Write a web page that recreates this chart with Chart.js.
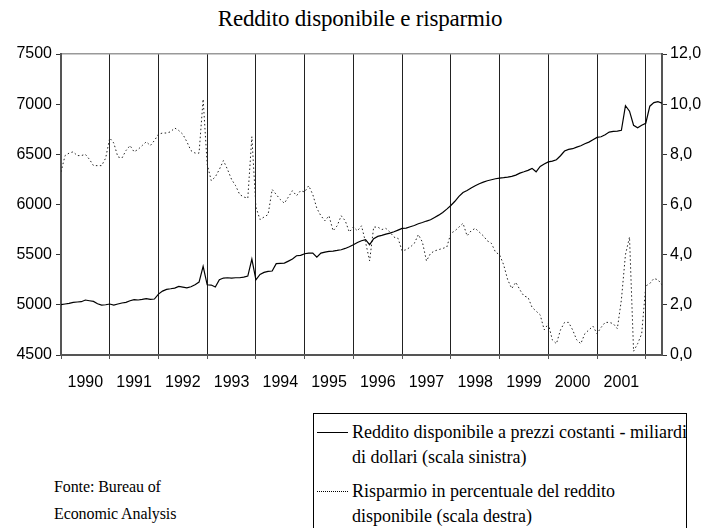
<!DOCTYPE html>
<html>
<head>
<meta charset="utf-8">
<script src="https://cdn.jsdelivr.net/npm/chart.js@4.4.1/dist/chart.umd.min.js"></script>
<style>
  body { margin: 0; background: #fff; }
  #wrap { position: relative; width: 720px; height: 528px; overflow: hidden; }
  #title { position: absolute; left: 0; top: 6px; width: 720px; text-align: center;
           font: 23px "Liberation Serif", serif; letter-spacing: -0.2px; color: #000; }
  canvas { position: absolute; left: 0; top: 0; }
  .src { position: absolute; left: 54px; top: 473px; font: 16px/27px "Liberation Serif", serif;
         letter-spacing: -0.1px; }
  #legend { position: absolute; left: 313px; top: 413px; width: 372px; height: 130px;
            border: 1px solid #000; font: 18px/25px "Liberation Serif", serif; letter-spacing: 0; }
  .item { position: absolute; left: 3px; }
  .sample { position: absolute; left: 0; width: 31px; top: 12px; }
  .txt { position: absolute; left: 35px; top: 0; white-space: nowrap; }
</style>
</head>
<body>
<div id="wrap">
  <div id="title">Reddito disponibile e risparmio</div>
  <canvas id="chart" width="720" height="400"></canvas>
  <div id="legend">
    <div class="item" style="top:6px">
      <div class="sample" style="border-top:1px solid #000"></div>
      <div class="txt">Reddito disponibile a prezzi costanti - miliardi<br>di dollari (scala sinistra)</div>
    </div>
    <div class="item" style="top:65px">
      <div class="sample" style="border-top:1px dotted #000"></div>
      <div class="txt">Risparmio in percentuale del reddito<br>disponibile (scala destra)</div>
    </div>
  </div>
  <div class="src">Fonte: Bureau of<br>Economic Analysis</div>
</div>
<script>
// monthly data, Jan 1990 onward
const years = ["1990", "1991", "1992", "1993", "1994", "1995", "1996", "1997", "1998", "1999", "2000", "2001"];

// real disposable income, billions (left scale)
const income = [
  5001, 5008, 5014, 5024, 5028, 5031, 5048, 5041, 5034, 5011, 4998, 5001,
  5008, 4998, 5008, 5018, 5024, 5041, 5051, 5048, 5054, 5061, 5054, 5058,
  5107, 5137, 5154, 5160, 5167, 5184, 5177, 5170, 5180, 5200, 5227, 5383,
  5200, 5197, 5177, 5250, 5267, 5270, 5267, 5270, 5270, 5277, 5287, 5456,
  5250, 5303, 5323, 5333, 5337, 5410, 5413, 5416, 5436, 5456, 5489, 5493,
  5509, 5516, 5516, 5475, 5516, 5526, 5532, 5536, 5542, 5549, 5562, 5579,
  5599, 5622, 5639, 5650, 5600, 5659, 5682, 5692, 5705, 5715, 5728, 5745,
  5762, 5765, 5778, 5791, 5808, 5821, 5835, 5848, 5871, 5894, 5921, 5954,
  5990, 6032, 6081, 6120, 6140, 6164, 6187, 6207, 6223, 6237, 6247, 6257,
  6263, 6267, 6273, 6280, 6293, 6313, 6326, 6340, 6360, 6326, 6380, 6403,
  6425, 6433, 6446, 6486, 6533, 6549, 6556, 6572, 6586, 6606, 6622, 6645,
  6669, 6675, 6695, 6722, 6729, 6732, 6740, 6985, 6930, 6790, 6765, 6790,
  6810, 6980, 7015, 7025, 7010
];

// saving rate, % of disposable income (right scale)
const savings = [
  7.3, 7.95, 8.05, 8.1, 7.95, 7.95, 8.0, 7.8, 7.55, 7.55, 7.55, 7.85,
  8.65, 8.45, 7.9, 7.85, 8.15, 8.35, 8.1, 8.2, 8.35, 8.5, 8.35, 8.55,
  8.8, 8.85, 8.85, 8.9, 9.05, 8.95, 8.8, 8.5, 8.15, 8.05, 8.05, 10.2,
  7.6, 6.95, 7.1, 7.4, 7.75, 7.4, 7.0, 6.75, 6.4, 6.3, 6.25, 8.7,
  5.9, 5.4, 5.5, 5.6, 6.6, 6.4, 6.2, 6.05, 6.3, 6.55, 6.35, 6.55,
  6.5, 6.75, 6.4, 5.85, 5.55, 5.35, 5.55, 4.95, 5.15, 5.55, 5.35, 4.9,
  5.1, 4.95, 5.15, 4.5, 3.75, 5.1, 5.1, 5.0, 5.05, 4.9, 4.7, 4.65,
  4.15, 4.2, 4.3, 4.45, 4.8, 4.5, 3.75, 4.05, 4.15, 4.2, 4.25, 4.3,
  4.85, 4.95, 5.1, 5.25, 4.75, 4.95, 5.05, 4.9, 4.75, 4.55, 4.45, 4.1,
  4.0, 3.6, 3.0, 2.65, 2.9, 2.6, 2.35, 2.3, 1.9, 1.75, 1.6, 1.0,
  1.25, 0.6, 0.45, 1.0, 1.3, 1.3, 1.0, 0.6, 0.45, 0.85, 1.0, 1.15,
  0.85, 1.1, 1.3, 1.3, 1.25, 1.05, 2.2, 4.0, 4.7, 0.15, 0.45, 0.85,
  2.75, 2.85, 3.05, 3.0, 2.8
];

const axisFont = { family: "Liberation Sans", size: 16 };

new Chart(document.getElementById("chart"), {
  type: "line",
  data: {
    datasets: [
      {
        label: "Reddito disponibile",
        data: income.map((v, i) => ({ x: i, y: v })),
        yAxisID: "y",
        borderColor: "#000",
        borderWidth: 1.2,
        pointRadius: 0,
      },
      {
        label: "Risparmio",
        data: savings.map((v, i) => ({ x: i, y: v })),
        yAxisID: "y2",
        borderColor: "#222",
        borderWidth: 1,
        borderDash: [1.5, 2.5],
        pointRadius: 0,
      },
    ],
  },
  options: {
    responsive: false,
    animation: false,
    layout: { padding: { top: 54, left: 0, right: 0, bottom: 0 } },
    plugins: { legend: { display: false }, tooltip: { enabled: false } },
    scales: {
      x: {
        type: "linear",
        min: 0,
        max: income.length - 1,
        afterBuildTicks: (scale) => {
          const t = [];
          for (let v = 0; v <= 144; v += 6) t.push({ value: v });
          scale.ticks = t;
        },
        afterFit: (scale) => { scale.height = 45; },
        grid: {
          color: (c) => (c.tick && c.tick.value % 12 === 0 && c.tick.value > 0 ? "#222" : "transparent"),
          tickColor: (c) => (c.tick && c.tick.value % 12 === 0 ? "#555" : "transparent"),
          tickLength: 4,
          lineWidth: 1,
        },
        border: { color: "#555", width: 2 },
        ticks: {
          autoSkip: false,
          maxRotation: 0,
          padding: 14,
          color: "#000",
          font: axisFont,
          callback: (v) => (v % 12 === 6 ? years[(v - 6) / 12] : ""),
        },
      },
      xTop: {
        type: "linear",
        position: "top",
        min: 0,
        max: income.length - 1,
        afterFit: (scale) => { scale.height = 0; },
        grid: { display: false },
        ticks: { display: false },
        border: { color: "#999", width: 1.5 },
      },
      y: {
        position: "left",
        min: 4500,
        max: 7500,
        afterFit: (scale) => { scale.width = 61; },
        grid: { drawOnChartArea: false, tickLength: 5, color: "#333" },
        border: { color: "#555", width: 2 },
        ticks: { stepSize: 500, padding: 4, color: "#000", font: axisFont, callback: (v) => String(v) },
      },
      y2: {
        position: "right",
        min: 0,
        max: 12,
        afterFit: (scale) => { scale.width = 58; },
        grid: { drawOnChartArea: false, tickLength: 5, color: "#333" },
        border: { color: "#555", width: 2 },
        ticks: {
          stepSize: 2,
          padding: 3,
          color: "#000",
          font: axisFont,
          callback: (v) => v.toFixed(1).replace(".", ","),
        },
      },
    },
  },
});
</script>
</body>
</html>
